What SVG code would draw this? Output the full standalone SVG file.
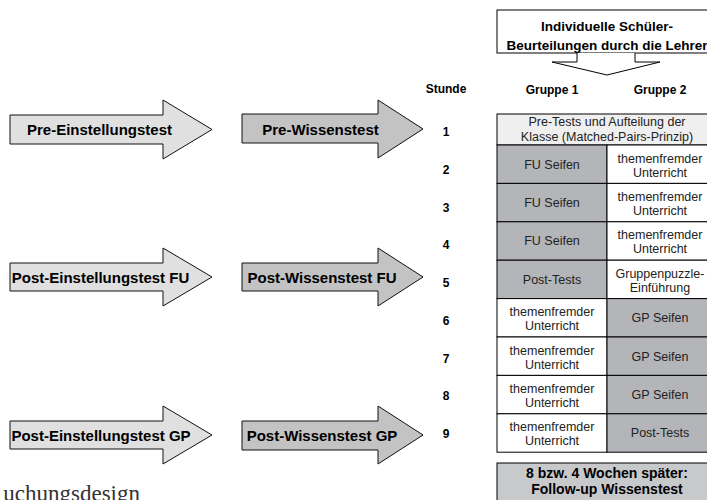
<svg xmlns="http://www.w3.org/2000/svg" width="707" height="500" viewBox="0 0 707 500">
<style>
.b{font-family:"Liberation Sans",Arial,sans-serif;font-weight:bold;fill:#000}
.r{font-family:"Liberation Sans",Arial,sans-serif;fill:#222}
.al{fill:#e0e0e0;stroke:#111;stroke-width:1}
.ar{fill:#c3c3c3;stroke:#111;stroke-width:1}
.g{fill:#b4b5b8;stroke:#000;stroke-width:1}
.w{fill:#fff;stroke:#000;stroke-width:1}
.lbl{font-size:15px;text-anchor:middle}
.cell{font-size:12.5px;text-anchor:middle}
.num{font-size:12px;text-anchor:middle}
</style>
<rect width="707" height="500" fill="#fff"/>
<g id="arrows-left">
<g id="pre-einstellungstest"><polygon class="al" points="10,115 163,115 163,100 212,129.5 163,159 163,144 10,144"/><text class="b lbl" x="99.5" y="135">Pre-Einstellungstest</text></g>
<g id="post-einstellungstest-fu"><polygon class="al" points="10,263 163,263 163,248 212,277 163,306 163,291 10,291"/><text class="b lbl" x="100.5" y="282.5">Post-Einstellungstest FU</text></g>
<g id="post-einstellungstest-gp"><polygon class="al" points="10,421 163,421 163,406 212,435 163,464 163,449 10,449"/><text class="b lbl" x="101" y="440.5">Post-Einstellungstest GP</text></g>
</g>
<g id="arrows-right">
<g id="pre-wissenstest"><polygon class="ar" points="242,114 378,114 378,100 423,129 378,158 378,143 242,143"/><text class="b lbl" x="320.5" y="134.5">Pre-Wissenstest</text></g>
<g id="post-wissenstest-fu"><polygon class="ar" points="242,263 378,263 378,248 423,277 378,306 378,291 242,291"/><text class="b lbl" x="322" y="282.5">Post-Wissenstest FU</text></g>
<g id="post-wissenstest-gp"><polygon class="ar" points="242,421 378,421 378,406 423,435 378,464 378,450 242,450"/><text class="b lbl" x="322" y="440.5">Post-Wissenstest GP</text></g>
</g>
<g id="top-box">
<rect x="497" y="10" width="220" height="43" fill="#fff" stroke="#000"/>
<text class="b" font-size="13.5" text-anchor="middle" x="607" y="31">Individuelle Schüler-</text>
<text class="b" font-size="13.5" text-anchor="middle" x="607" y="50">Beurteilungen durch die Lehrer</text>
</g>
<g id="connectors">
<polyline points="577,53 577,62 552,62 607,75 660,62 635,62 635,53" fill="#fff" stroke="#000" stroke-width="1"/>
</g>
<g id="headers">
<text class="b num" x="446" y="93">Stunde</text>
<text class="b num" x="552" y="94">Gruppe 1</text>
<text class="b num" x="660" y="94">Gruppe 2</text>
</g>
<g id="hours">
<text class="b num" x="446" y="136">1</text>
<text class="b num" x="446" y="173.8">2</text>
<text class="b num" x="446" y="211.5">3</text>
<text class="b num" x="446" y="249.3">4</text>
<text class="b num" x="446" y="287">5</text>
<text class="b num" x="446" y="324.8">6</text>
<text class="b num" x="446" y="362.5">7</text>
<text class="b num" x="446" y="400.3">8</text>
<text class="b num" x="446" y="438">9</text>
</g>
<g id="table">
<g id="row1"><rect x="497" y="114" width="220" height="31" fill="#efefef" stroke="#000"/><text class="r cell" x="607" y="126">Pre-Tests und Aufteilung der</text><text class="r cell" x="607" y="141">Klasse (Matched-Pairs-Prinzip)</text></g>
<g id="row2"><rect class="g" x="497" y="145" width="110" height="38.4"/><rect class="w" x="607" y="145" width="110" height="38.4"/><text class="r cell" x="552" y="168.5">FU Seifen</text><text class="r cell" x="660" y="162.5">themenfremder</text><text class="r cell" x="660" y="176.5">Unterricht</text></g>
<g id="row3"><rect class="g" x="497" y="183.4" width="110" height="38.4"/><rect class="w" x="607" y="183.4" width="110" height="38.4"/><text class="r cell" x="552" y="206.9">FU Seifen</text><text class="r cell" x="660" y="200.9">themenfremder</text><text class="r cell" x="660" y="214.9">Unterricht</text></g>
<g id="row4"><rect class="g" x="497" y="221.8" width="110" height="38.4"/><rect class="w" x="607" y="221.8" width="110" height="38.4"/><text class="r cell" x="552" y="245.3">FU Seifen</text><text class="r cell" x="660" y="239.3">themenfremder</text><text class="r cell" x="660" y="253.3">Unterricht</text></g>
<g id="row5"><rect class="g" x="497" y="260.2" width="110" height="38.4"/><rect class="w" x="607" y="260.2" width="110" height="38.4"/><text class="r cell" x="552" y="283.7">Post-Tests</text><text class="r cell" x="660" y="277.7">Gruppenpuzzle-</text><text class="r cell" x="660" y="291.7">Einführung</text></g>
<g id="row6"><rect class="w" x="497" y="298.6" width="110" height="38.4"/><rect class="g" x="607" y="298.6" width="110" height="38.4"/><text class="r cell" x="552" y="316.1">themenfremder</text><text class="r cell" x="552" y="330.1">Unterricht</text><text class="r cell" x="660" y="322.1">GP Seifen</text></g>
<g id="row7"><rect class="w" x="497" y="337" width="110" height="38.4"/><rect class="g" x="607" y="337" width="110" height="38.4"/><text class="r cell" x="552" y="354.5">themenfremder</text><text class="r cell" x="552" y="368.5">Unterricht</text><text class="r cell" x="660" y="360.5">GP Seifen</text></g>
<g id="row8"><rect class="w" x="497" y="375.4" width="110" height="38.4"/><rect class="g" x="607" y="375.4" width="110" height="38.4"/><text class="r cell" x="552" y="392.9">themenfremder</text><text class="r cell" x="552" y="406.9">Unterricht</text><text class="r cell" x="660" y="398.9">GP Seifen</text></g>
<g id="row9"><rect class="w" x="497" y="413.8" width="110" height="38.4"/><rect class="g" x="607" y="413.8" width="110" height="38.4"/><text class="r cell" x="552" y="431.3">themenfremder</text><text class="r cell" x="552" y="445.3">Unterricht</text><text class="r cell" x="660" y="437.3">Post-Tests</text></g>
</g>
<g id="follow-up">
<rect x="497" y="463" width="220" height="45" fill="#c8c9cb" stroke="#000"/>
<text class="b" font-size="14" text-anchor="middle" x="607" y="478">8 bzw. 4 Wochen später:</text>
<text class="b" font-size="14" text-anchor="middle" x="607" y="494">Follow-up Wissenstest</text>
</g>
<text font-family="'Liberation Serif',serif" font-size="23" fill="#333" text-anchor="end" x="140" y="501">uchungsdesign</text>
</svg>
